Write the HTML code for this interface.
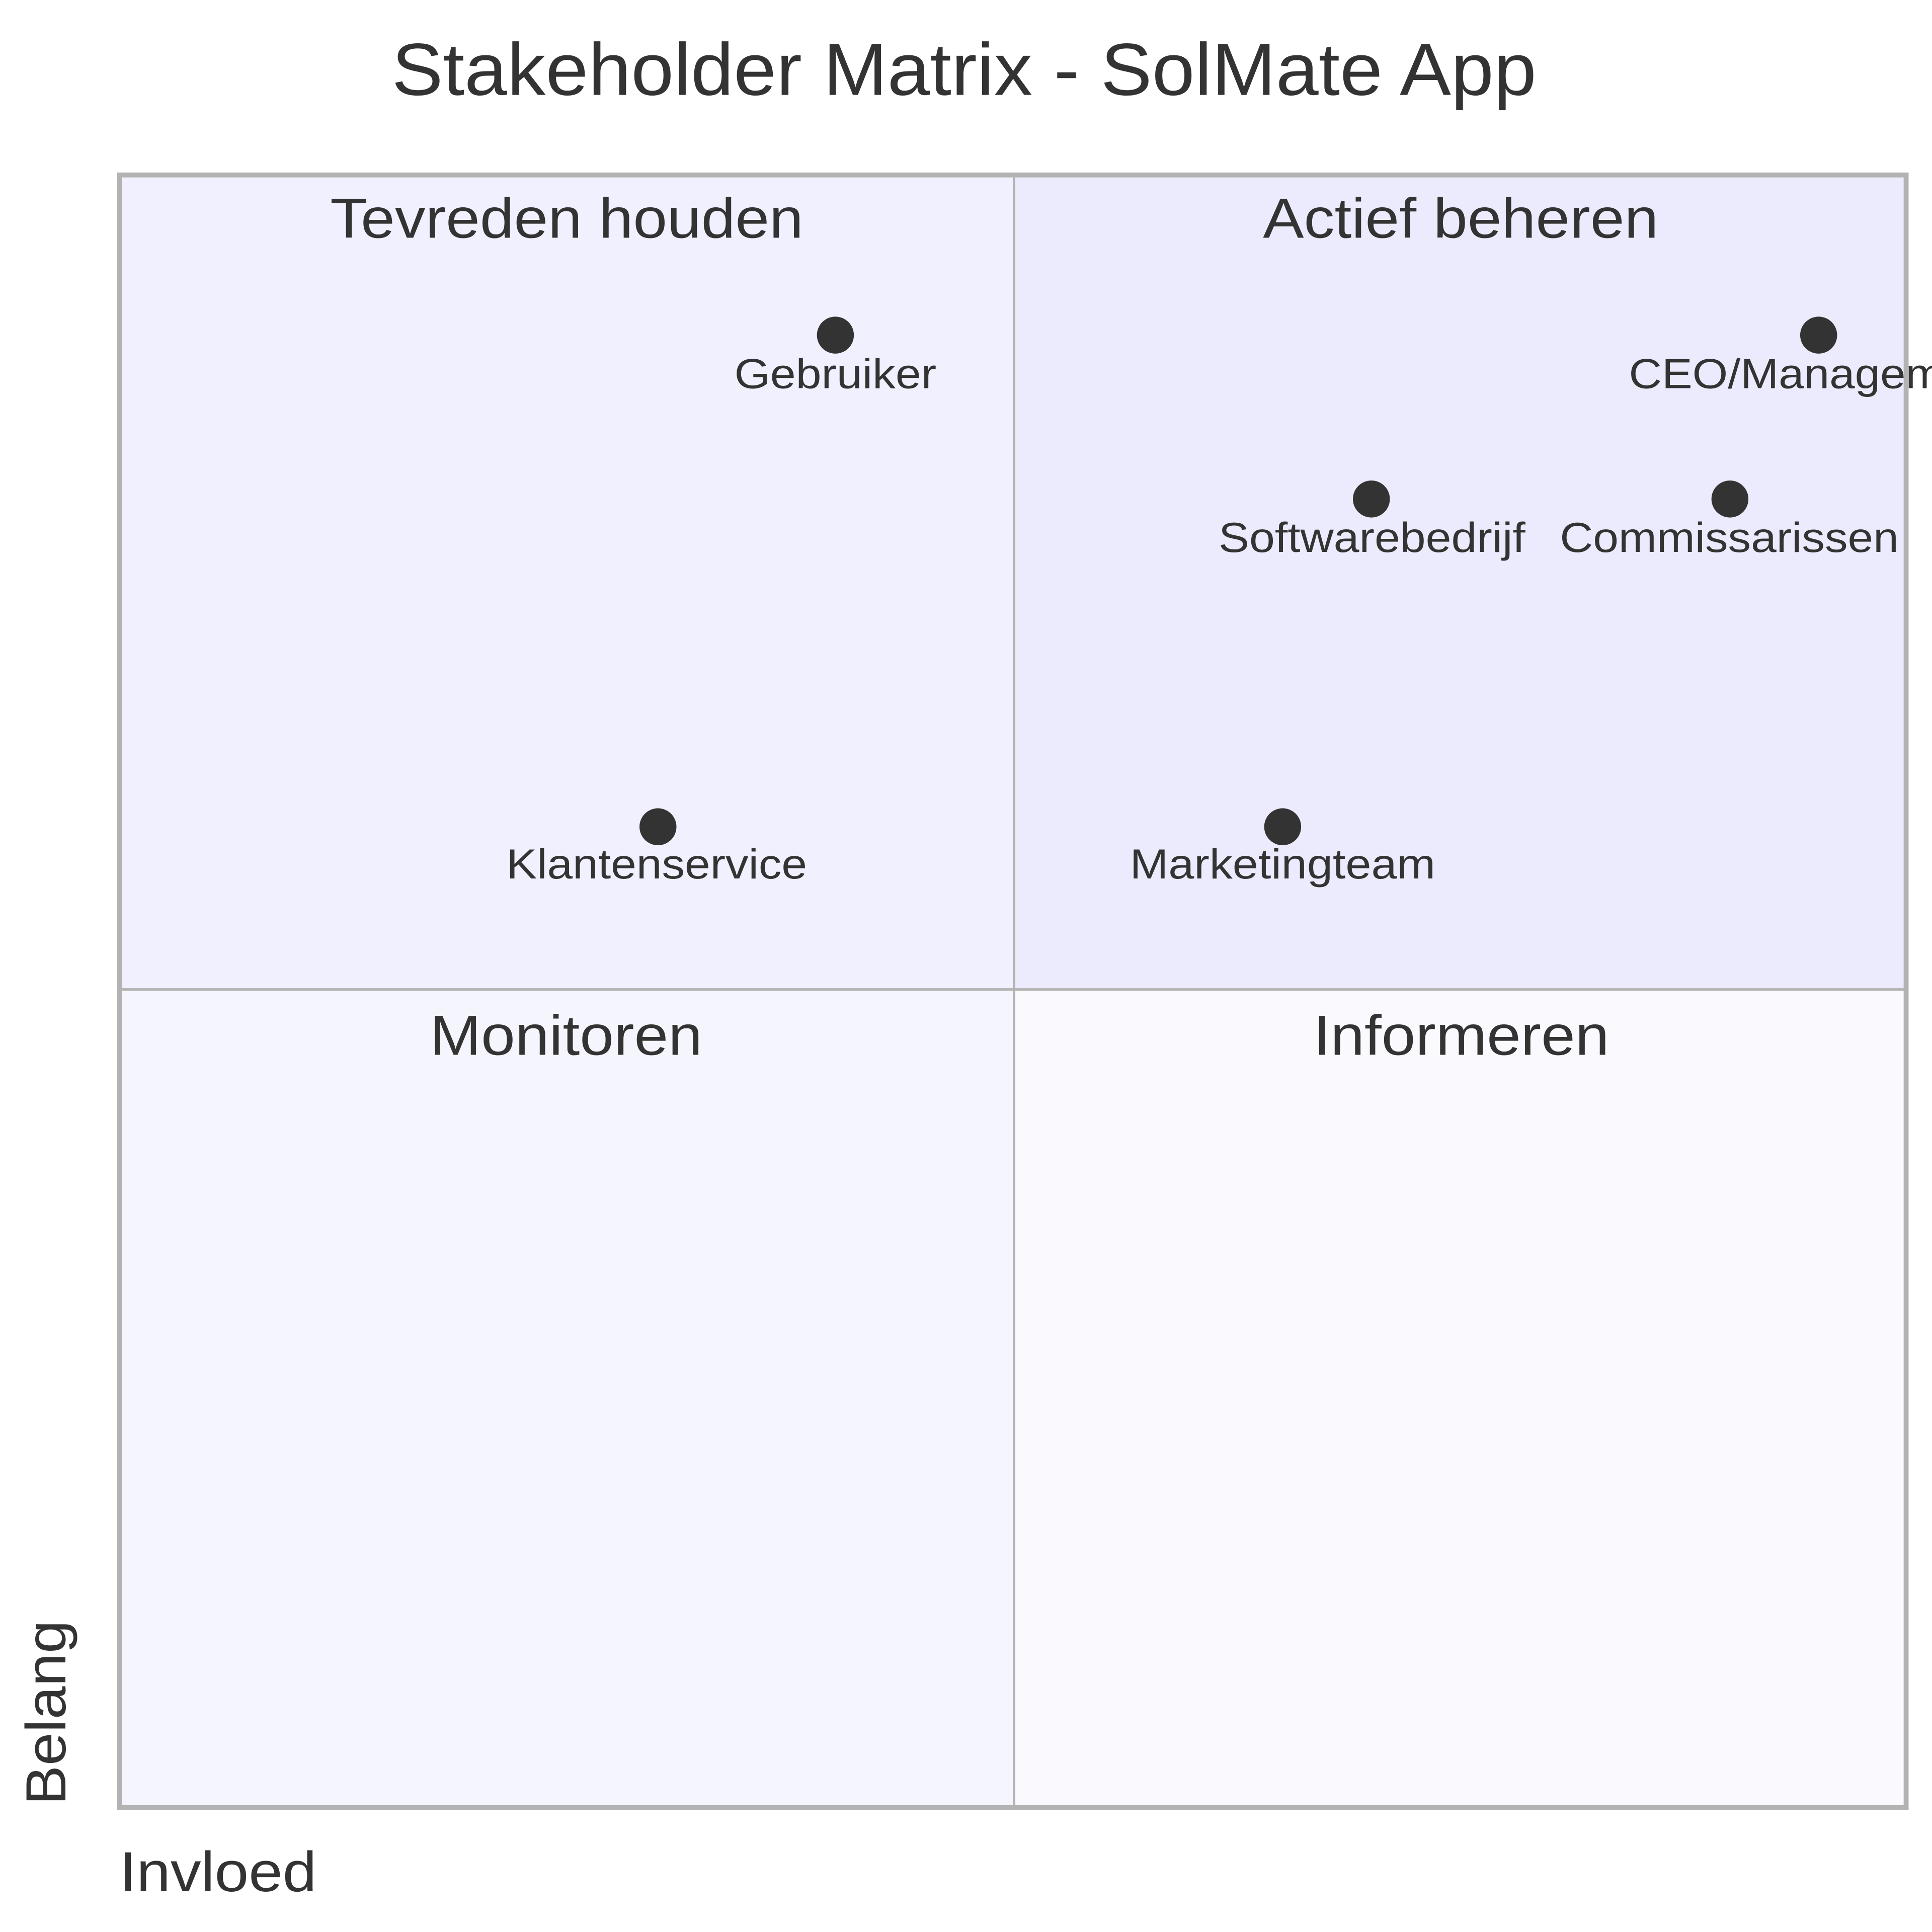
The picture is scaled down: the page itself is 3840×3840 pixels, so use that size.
<!DOCTYPE html>
<html><head><meta charset="utf-8"><style>
html,body{margin:0;padding:0;background:#fff;}
svg{display:block;}
text{font-family:"Liberation Sans",Arial,sans-serif;fill:#333;}
</style></head><body>
<svg width="3840" height="3840" viewBox="0 0 1568 1568" xmlns="http://www.w3.org/2000/svg">
<rect x="0" y="0" width="1568" height="1568" fill="#fff"/>
<text x="318" y="77" font-size="60" textLength="929" lengthAdjust="spacingAndGlyphs">Stakeholder Matrix - SolMate App</text>
<rect x="97" y="142" width="726" height="661" fill="#f0f0fe"/>
<rect x="823" y="142" width="724" height="661" fill="#ebebfd"/>
<rect x="97" y="803" width="726" height="664" fill="#f5f5fe"/>
<rect x="823" y="803" width="724" height="664" fill="#f9f9fe"/>
<line x1="823" y1="142" x2="823" y2="1467" stroke="#b3b3b3" stroke-width="2"/>
<line x1="97" y1="803" x2="1547" y2="803" stroke="#b3b3b3" stroke-width="2"/>
<rect x="97" y="142" width="1450" height="1325" fill="none" stroke="#b3b3b3" stroke-width="4"/>
<g font-size="46">
<text x="268" y="193" textLength="384" lengthAdjust="spacingAndGlyphs">Tevreden houden</text>
<text x="1025" y="193" textLength="321" lengthAdjust="spacingAndGlyphs">Actief beheren</text>
<text x="349" y="856" textLength="221" lengthAdjust="spacingAndGlyphs">Monitoren</text>
<text x="1066" y="856" textLength="240" lengthAdjust="spacingAndGlyphs">Informeren</text>
</g>
<g fill="#333">
<ellipse cx="678" cy="272" rx="15" ry="15"/>
<ellipse cx="1476" cy="272" rx="15" ry="15"/>
<ellipse cx="1113" cy="405" rx="15" ry="15"/>
<ellipse cx="1404" cy="405" rx="15" ry="15"/>
<ellipse cx="534" cy="671" rx="15" ry="15"/>
<ellipse cx="1041" cy="671" rx="15" ry="15"/>
</g>
<g font-size="34" lengthAdjust="spacingAndGlyphs">
<text x="596" y="315" textLength="164" lengthAdjust="spacingAndGlyphs">Gebruiker</text>
<text x="1322" y="315" textLength="307" lengthAdjust="spacingAndGlyphs">CEO/Management</text>
<text x="989" y="448" textLength="249" lengthAdjust="spacingAndGlyphs">Softwarebedrijf</text>
<text x="1266" y="448" textLength="275" lengthAdjust="spacingAndGlyphs">Commissarissen</text>
<text x="411" y="713" textLength="244" lengthAdjust="spacingAndGlyphs">Klantenservice</text>
<text x="917" y="713" textLength="248" lengthAdjust="spacingAndGlyphs">Marketingteam</text>
</g>
<text x="97" y="1535" font-size="46" textLength="160" lengthAdjust="spacingAndGlyphs">Invloed</text>
<text transform="translate(53,1465) rotate(-90)" font-size="46" textLength="150" lengthAdjust="spacingAndGlyphs">Belang</text>
</svg>
</body></html>
